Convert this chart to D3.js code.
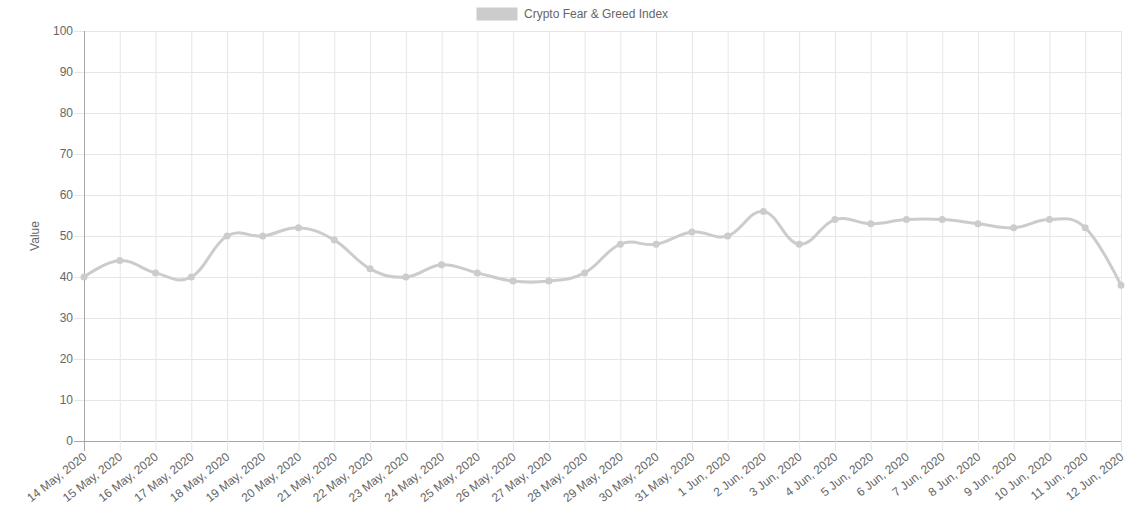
<!DOCTYPE html>
<html><head><meta charset="utf-8">
<script src="https://cdn.jsdelivr.net/npm/d3@7"></script>
<style>body{margin:0;background:#fff}svg{display:block;font-family:"Liberation Sans",Arial,sans-serif}</style>
</head><body><svg id="c" width="1141" height="508"></svg>
<script>
const categories = ["14 May, 2020","15 May, 2020","16 May, 2020","17 May, 2020","18 May, 2020","19 May, 2020","20 May, 2020","21 May, 2020","22 May, 2020","23 May, 2020","24 May, 2020","25 May, 2020","26 May, 2020","27 May, 2020","28 May, 2020","29 May, 2020","30 May, 2020","31 May, 2020","1 Jun, 2020","2 Jun, 2020","3 Jun, 2020","4 Jun, 2020","5 Jun, 2020","6 Jun, 2020","7 Jun, 2020","8 Jun, 2020","9 Jun, 2020","10 Jun, 2020","11 Jun, 2020","12 Jun, 2020"];
const values = [40,44,41,40,50,50,52,49,42,40,43,41,39,39,41,48,48,51,50,56,48,54,53,54,54,53,52,54,52,38];
const yTicks = [0,10,20,30,40,50,60,70,80,90,100];
const seriesName = "Crypto Fear & Greed Index";
const yTitle = "Value";

const svg = d3.select("#c");
const L = 84, R = 1121, T = 31, B = 441;
const x = d3.scalePoint().domain(categories).range([L, R]);
const y = d3.scaleLinear().domain([0, 100]).range([B, T]);
const grid = "#e6e6e6", axisC = "#a6a6a6", txt = "#666";

const g = svg.append("g");
g.selectAll("line.h").data(yTicks).join("line")
  .attr("x1", L - 10).attr("x2", R).attr("y1", d => y(d) + 0.5).attr("y2", d => y(d) + 0.5)
  .attr("stroke", d => d === 0 ? axisC : grid).attr("stroke-width", 1);
g.selectAll("line.v").data(categories).join("line")
  .attr("x1", d => x(d) + 0.5).attr("x2", d => x(d) + 0.5).attr("y1", T).attr("y2", B + 10)
  .attr("stroke", (d, i) => i === 0 ? axisC : grid).attr("stroke-width", 1);

g.selectAll("text.y").data(yTicks).join("text")
  .attr("x", 73).attr("y", d => y(d)).attr("dy", "0.35em").attr("text-anchor", "end")
  .attr("font-size", 12).attr("fill", txt).text(d => d);

g.selectAll("text.x").data(categories).join("text")
  .attr("transform", d => `translate(${x(d) + 1},${B + 14}) rotate(-38)`)
  .attr("text-anchor", "end").attr("dy", "0.35em")
  .attr("font-size", 12).attr("fill", txt).text(d => d);

svg.append("text").attr("transform", `translate(39,${(T + B) / 2}) rotate(-90)`)
  .attr("text-anchor", "middle").attr("font-size", 12).attr("fill", txt).text(yTitle);

svg.append("rect").attr("x", 477).attr("y", 8).attr("width", 40).attr("height", 12)
  .attr("fill", "#cccccc").attr("stroke", "#cccccc").attr("stroke-width", 1);
svg.append("text").attr("x", 524).attr("y", 14).attr("dy", "0.35em")
  .attr("font-size", 12).attr("fill", txt).text(seriesName);

const line = d3.line().x((d, i) => x(categories[i])).y(d => y(d)).curve(d3.curveCardinal.tension(-0.2));
svg.append("path").datum(values).attr("d", line).attr("fill", "none")
  .attr("stroke", "#cccccc").attr("stroke-width", 3);
svg.selectAll("circle.p").data(values).join("circle")
  .attr("cx", (d, i) => x(categories[i])).attr("cy", d => y(d)).attr("r", 3.5)
  .attr("fill", "#cccccc");
</script></body></html>
